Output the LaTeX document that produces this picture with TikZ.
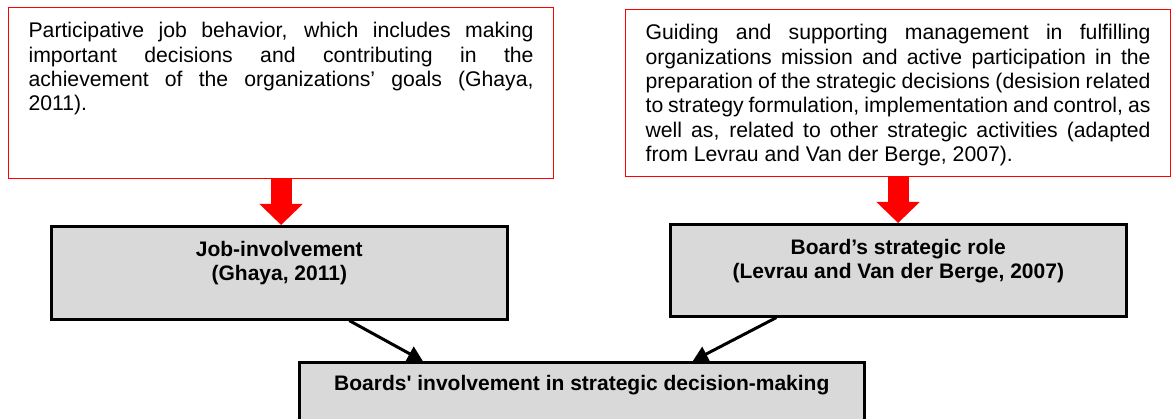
\documentclass[tikz,border=0pt]{standalone}
\usepackage{fontspec}
\setmainfont{Liberation Sans}[Ligatures=TeXOff]
\usetikzlibrary{arrows.meta}
\tikzset{%
	notebox/.style   = {draw=red, line width=1.2pt, fill=white, anchor=north west, inner xsep=20pt, inner ysep=15pt, font=\fontsize{21.2pt}{24.3pt}\selectfont},
	conbox/.style    = {draw, line width=2.6pt, fill=black!15, anchor=north west, inner xsep=20pt, inner ysep=14.5pt, font=\fontsize{21pt}{24.8pt}\selectfont\bfseries},
	redarrow/.style  = {red, line width=21pt, -{Triangle[length=21pt,width=42pt]}},
	linkarrow/.style = {line width=3pt, -{Triangle[length=15pt,width=16pt]}},
}
\newcommand{\jline}[1]{\makebox[\linewidth][s]{#1}\\}

\begin{document}
\begin{tikzpicture}[x=1pt,y=-1pt]
	\useasboundingbox (0,0) rectangle (1172,419);
	\clip (0,0) rectangle (1172,419);
	% definitions
	\node[notebox] (note1) at (8,7) {\parbox[c][141pt][t]{505pt}{%
		\jline{Participative job behavior, which includes making}
		\jline{important decisions and contributing in the}
		\jline{achievement of the organizations’ goals (Ghaya,}
		2011).}};
	\node[notebox] (note2) at (625,9) {\parbox[c][137pt][t]{505pt}{%
		\jline{Guiding and supporting management in fulfilling}
		\jline{organizations mission and active participation in the}
		\jline{preparation of the strategic decisions (desision related}
		\jline{to strategy formulation, implementation and control, as}
		\jline{well as, related to other strategic activities (adapted}
		from Levrau and Van der Berge, 2007).}};
	% concepts
	\node[conbox] (job) at (50,225) {\parbox[c][64pt][t]{416pt}{\centering Job-involvement\\(Ghaya, 2011)}};
	\node[conbox] (role) at (669,223) {\parbox[c][63pt][t]{416pt}{\centering Board’s strategic role\\(Levrau and Van der Berge, 2007)}};
	\node[conbox, inner ysep=12.5pt] (boards) at (298,361) {\parbox[c][70pt][t]{525pt}{\centering Boards' involvement in strategic decision-making}};
	% arrows
	\draw[redarrow] (note1.south) -- (note1.south |- job.north);
	\draw[redarrow] (note2.south) -- (note2.south |- role.north);
	\draw[linkarrow] ([xshift=70pt]job.south) -- ([xshift=-159pt]boards.north);
	\draw[linkarrow] ([xshift=-122pt]role.south) -- ([xshift=111pt]boards.north);
\end{tikzpicture}
\end{document}
